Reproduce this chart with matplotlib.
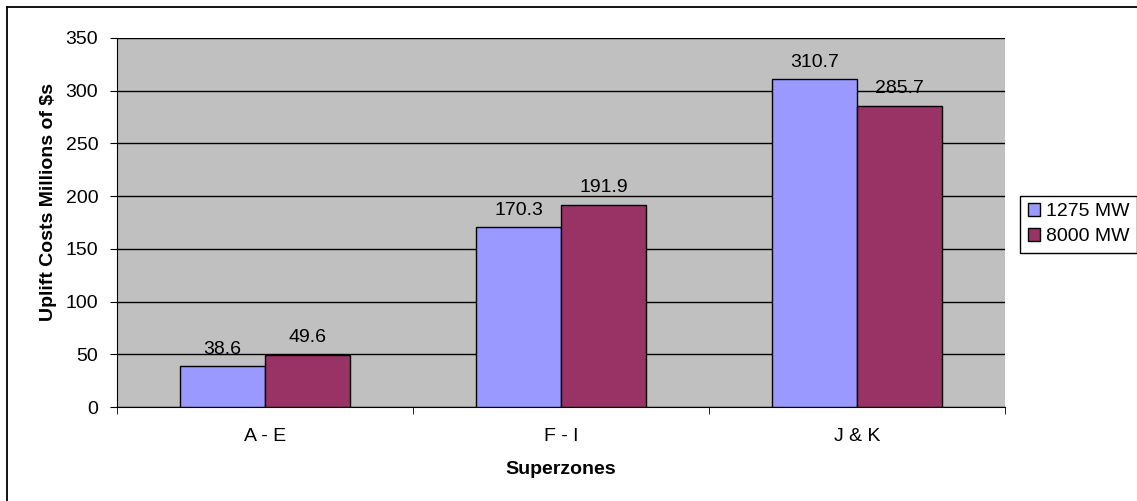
import matplotlib.pyplot as plt
from matplotlib.lines import Line2D
import numpy as np

plt.rcParams['font.family'] = ['Liberation Sans', 'DejaVu Sans']

zones = ['A - E', 'F - I', 'J & K']
mw_1275 = [38.6, 170.3, 310.7]
mw_8000 = [49.6, 191.9, 285.7]

W, H = 1137, 501
fig = plt.figure(figsize=(W / 100, H / 100), dpi=100)
# plot area: x 117..1005, y 38..407 (pixels)
ax = fig.add_axes([117 / W, 1 - 407 / H, (1005 - 117) / W, (407 - 38) / H])
ax.set_facecolor('#C0C0C0')

x = np.arange(len(zones))
w = 0.287
b1 = ax.bar(x - w / 2, mw_1275, w, color='#9999FF', edgecolor='black', linewidth=1, label='1275 MW', zorder=3)
b2 = ax.bar(x + w / 2, mw_8000, w, color='#993366', edgecolor='black', linewidth=1, label='8000 MW', zorder=3)

# value labels above bars
for bars, vals in [(b1, mw_1275), (b2, mw_8000)]:
    for r, v in zip(bars, vals):
        ax.annotate(f'{v:.1f}', (r.get_x() + r.get_width() / 2, v), xytext=(0, 6),
                    textcoords='offset points', ha='center', va='bottom', fontsize=14)

ax.set_xlim(-0.5, 2.5)
ax.set_ylim(0, 350)
ax.set_yticks(range(0, 351, 50))
ax.yaxis.grid(True, color='black', linewidth=1, zorder=0)
ax.set_axisbelow(True)

ax.set_xticks(x)
ax.set_xticklabels(zones)
ax.set_xticks([-0.5, 0.5, 1.5, 2.5], minor=True)
ax.tick_params(axis='x', which='major', length=0, pad=15, labelsize=14)
ax.tick_params(axis='x', which='minor', length=5, direction='out')
ax.tick_params(axis='y', length=5, direction='out', labelsize=14, pad=8.5)

for s in ['top', 'right']:
    ax.spines[s].set_visible(False)

ax.set_xlabel('Superzones', fontsize=14, fontweight='bold', labelpad=12)
ax.set_ylabel('Uplift Costs Millions of $s', fontsize=14, fontweight='bold', labelpad=6)
ax.yaxis.label.set_y(0.555)

leg = fig.legend(handles=[b1, b2], loc='lower right', bbox_to_anchor=(1.0, 1 - 253 / H),
                 fontsize=14, frameon=True, fancybox=False, edgecolor='black', framealpha=1,
                 handlelength=0.6, handleheight=0.6, handletextpad=0.3, borderpad=0.4,
                 labelspacing=0.4, borderaxespad=0)
leg.get_frame().set_linewidth(1)

# outer chart border (only left and top edges are inside the picture)
fig.add_artist(Line2D([7 / W, 7 / W], [0, 1 - 7 / H], transform=fig.transFigure, color='black', linewidth=1.3))
fig.add_artist(Line2D([7 / W, 1], [1 - 7 / H, 1 - 7 / H], transform=fig.transFigure, color='black', linewidth=1.3))

fig.savefig('out.png', dpi=100)
